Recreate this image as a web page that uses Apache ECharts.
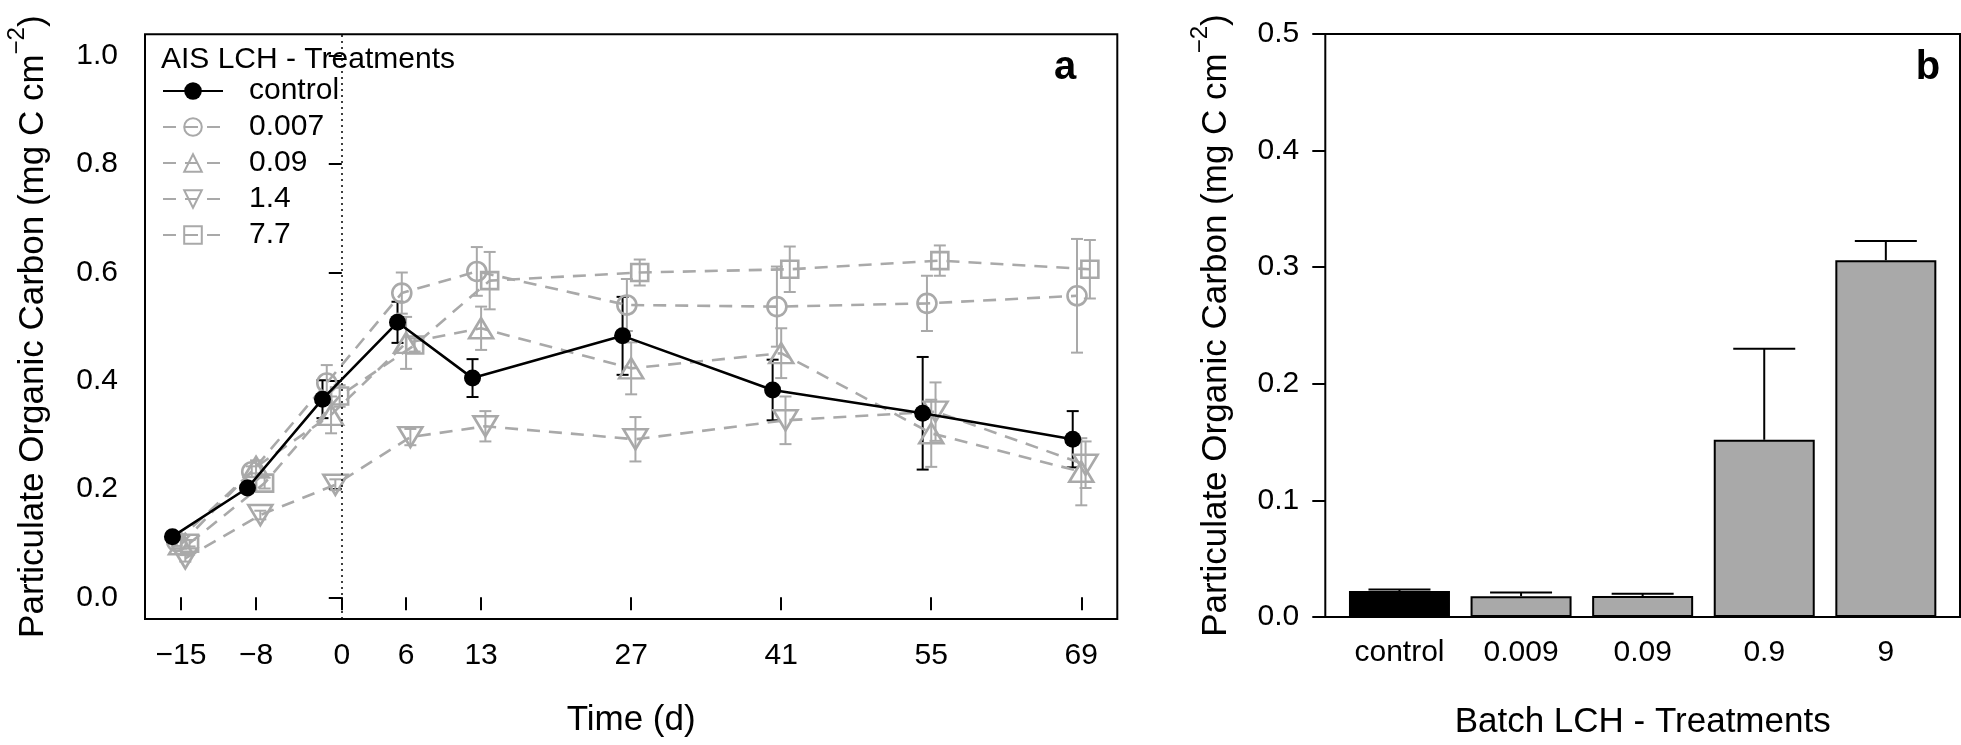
<!DOCTYPE html>
<html><head><meta charset="utf-8">
<script src="https://cdn.jsdelivr.net/npm/echarts@6/dist/echarts.min.js"></script>
<style>html,body{margin:0;padding:0;background:#fff}#c{width:1961px;height:745px}</style>
</head><body><div id="c"></div>
<script>
// ---------- Panel a : AIS LCH treatments over time ----------
const days = [-15, -8, -1, 6, 13, 27, 41, 55, 69];
const timeTicks = [-15, -8, 0, 6, 13, 27, 41, 55, 69];
const yTicksA = [0, 0.2, 0.4, 0.6, 0.8, 1.0];
const treatmentNames = ['control', '0.007', '0.09', '1.4', '7.7'];

const pocControl = [0.112, 0.202, 0.366, 0.508, 0.405, 0.483, 0.383, 0.340, 0.292];
const errControl = [0.006, 0.008, 0.035, 0.038, 0.035, 0.072, 0.056, 0.104, 0.052];
const poc0007 = [0.103, 0.232, 0.396, 0.562, 0.602, 0.540, 0.537, 0.543, 0.557];
const err0007 = [0.008, 0.010, 0.033, 0.038, 0.045, 0.048, 0.074, 0.051, 0.105];
const poc009 = [0.098, 0.241, 0.337, 0.470, 0.497, 0.423, 0.451, 0.303, 0.232];
const err009 = [0.008, 0.012, 0.034, 0.048, 0.040, 0.048, 0.046, 0.062, 0.062];
const poc14 = [0.072, 0.152, 0.208, 0.296, 0.316, 0.292, 0.327, 0.343, 0.245];
const err14 = [0.006, 0.008, 0.010, 0.015, 0.028, 0.041, 0.044, 0.054, 0.043];
const poc77 = [0.100, 0.211, 0.372, 0.466, 0.585, 0.600, 0.606, 0.622, 0.606];
const err77 = [0.006, 0.010, 0.020, 0.012, 0.053, 0.024, 0.042, 0.028, 0.054];

// horizontal dodge (days) so overlapping treatments stay visible
const dodge = [-0.8, -0.4, 0, 0.4, 0.8];

// ---------- Panel b : Batch LCH treatments ----------
const batchNames = ['control', '0.009', '0.09', '0.9', '9'];
const batchPOC = [0.0222, 0.0179, 0.0180, 0.152, 0.306];
const batchErr = [0.0013, 0.0031, 0.0020, 0.078, 0.0165];
const yTicksB = [0, 0.1, 0.2, 0.3, 0.4, 0.5];

const GRAY = '#A9A9A9';
const FONT = 'Liberation Sans, Arial, Helvetica, sans-serif';
const seriesVals = [pocControl, poc0007, poc009, poc14, poc77];
const seriesErrs = [errControl, err0007, err009, err14, err77];
const symbols = ['circle', 'circle', 'triangle', 'triangle', 'rect'];
const symbolSizes = [17, 19, [24, 20], [24, 20], 17];
const symbolRot = [0, 0, 0, 180, 0];

function fmtMinus(v) { return String(v).replace('-', '\u2212'); }

const series = [];
treatmentNames.forEach((name, k) => {
  const col = k === 0 ? '#000' : GRAY;
  // error bars
  series.push({
    type: 'custom', xAxisIndex: 0, yAxisIndex: 0, silent: true, z: 1,
    data: days.map((d, i) => [d + dodge[k], seriesVals[k][i] - seriesErrs[k][i], seriesVals[k][i] + seriesErrs[k][i]]),
    renderItem: (params, api) => {
      const x = api.value(0);
      const p1 = api.coord([x, api.value(1)]);
      const p2 = api.coord([x, api.value(2)]);
      const w = 6;
      const st = { stroke: col, lineWidth: 2 };
      return { type: 'group', children: [
        { type: 'line', shape: { x1: p1[0], y1: p1[1], x2: p2[0], y2: p2[1] }, style: st },
        { type: 'line', shape: { x1: p1[0] - w, y1: p1[1], x2: p1[0] + w, y2: p1[1] }, style: st },
        { type: 'line', shape: { x1: p2[0] - w, y1: p2[1], x2: p2[0] + w, y2: p2[1] }, style: st }
      ]};
    }
  });
  const s = {
    type: 'line', name: name, xAxisIndex: 0, yAxisIndex: 0, z: k === 0 ? 5 : 3,
    data: days.map((d, i) => [d + dodge[k], seriesVals[k][i]]),
    symbol: symbols[k], symbolSize: symbolSizes[k], symbolRotate: symbolRot[k],
    showAllSymbol: true,
    lineStyle: { color: col, width: 2.6, type: k === 0 ? 'solid' : [13, 9] },
    itemStyle: k === 0 ? { color: '#000', borderColor: '#000', borderWidth: 0 }
                       : { color: 'rgba(255,255,255,0)', borderColor: GRAY, borderWidth: 2.6 },
    emphasis: { disabled: true }
  };
  if (k === 0) {
    s.markLine = {
      silent: true, symbol: ['none', 'none'], label: { show: false },
      lineStyle: { color: '#000', type: [2, 4], width: 1.5 },
      data: [{ xAxis: 0 }]
    };
  }
  series.push(s);
});

series.push({
  type: 'bar', xAxisIndex: 1, yAxisIndex: 1, barWidth: 101,
  data: batchPOC.map((v, i) => ({ value: [i + 1, v], itemStyle: { color: i === 0 ? '#000' : GRAY } })),
  itemStyle: { borderColor: '#000', borderWidth: 2 },
  emphasis: { disabled: true }
});
series.push({
  type: 'custom', xAxisIndex: 1, yAxisIndex: 1, silent: true, z: 1,
  data: batchPOC.map((v, i) => [i + 1, v, v + batchErr[i]]),
  renderItem: (params, api) => {
    const x = api.value(0);
    const p1 = api.coord([x, api.value(1)]);
    const p2 = api.coord([x, api.value(2)]);
    const st = { stroke: '#000', lineWidth: 2 };
    return { type: 'group', children: [
      { type: 'line', shape: { x1: p1[0], y1: p1[1], x2: p2[0], y2: p2[1] }, style: st },
      { type: 'line', shape: { x1: p2[0] - 31, y1: p2[1], x2: p2[0] + 31, y2: p2[1] }, style: st }
    ]};
  }
});

const yName = 'Particulate Organic Carbon (mg C cm{sup|\u22122})';
const nameStyle = { fontSize: 35, color: '#000', fontFamily: FONT, lineHeight: 56,
  rich: { sup: { fontSize: 24, lineHeight: 24, verticalAlign: 'top', fontFamily: FONT, color: '#000' } } };
const tickStyle = { show: true, inside: false, length: 13, lineStyle: { color: '#000', width: 2 } };
const labStyle = { fontSize: 30, color: '#000', fontFamily: FONT };

const option = {
  animation: false,
  textStyle: { fontFamily: FONT },
  grid: [
    { left: 145, top: 34.3, width: 972.3, height: 584.7, show: true, borderColor: '#000', borderWidth: 2, backgroundColor: 'transparent', containLabel: false },
    { left: 1325.3, top: 34, width: 634.7, height: 585.3, show: true, borderColor: '#000', borderWidth: 2, backgroundColor: 'transparent', containLabel: false }
  ],
  xAxis: [
    { type: 'value', gridIndex: 0, min: -18.36, max: 72.36,
      axisLine: { show: false }, splitLine: { show: false },
      axisTick: Object.assign({ customValues: timeTicks }, tickStyle),
      axisLabel: Object.assign({ customValues: timeTicks, margin: 22, formatter: v => fmtMinus(v) }, labStyle),
      name: 'Time (d)', nameLocation: 'middle', nameGap: 84, nameTextStyle: { fontSize: 35, color: '#000', fontFamily: FONT } },
    { type: 'value', gridIndex: 1, min: 0.39, max: 5.61,
      axisLine: { show: false }, splitLine: { show: false }, axisTick: { show: false },
      axisLabel: Object.assign({ customValues: [1, 2, 3, 4, 5], margin: 21, formatter: v => batchNames[Math.round(v) - 1] }, labStyle),
      name: 'Batch LCH - Treatments', nameLocation: 'middle', nameGap: 88, nameTextStyle: { fontSize: 35, color: '#000', fontFamily: FONT } }
  ],
  yAxis: [
    { type: 'value', gridIndex: 0, min: -0.04, max: 1.04,
      axisLine: { show: false }, splitLine: { show: false },
      axisTick: Object.assign({ customValues: yTicksA }, tickStyle),
      axisLabel: Object.assign({ customValues: yTicksA, margin: 27, formatter: v => v.toFixed(1) }, labStyle),
      name: yName, nameLocation: 'middle', nameGap: 84, nameTextStyle: nameStyle },
    { type: 'value', gridIndex: 1, min: 0, max: 0.5,
      axisLine: { show: false }, splitLine: { show: false },
      axisTick: Object.assign({ customValues: yTicksB }, tickStyle),
      axisLabel: Object.assign({ customValues: yTicksB, margin: 26, formatter: v => v.toFixed(1) }, labStyle),
      name: yName, nameLocation: 'middle', nameGap: 81, nameTextStyle: nameStyle }
  ],
  legend: {
    orient: 'vertical', left: 157, top: 71, itemWidth: 60, itemHeight: 22, itemGap: 6,
    data: treatmentNames, selectedMode: false,
    textStyle: { fontSize: 30, color: '#000', fontFamily: FONT, padding: [0, 0, 0, 21] }
  },
  graphic: [
    { type: 'text', left: 161, top: 45, style: { text: 'AIS LCH - Treatments', fontSize: 30, fill: '#000', font: '30px ' + FONT } },
    { type: 'text', x: 1065, y: 68, style: { text: 'a', fill: '#000', font: 'bold 40px ' + FONT, textAlign: 'center', textVerticalAlign: 'middle' } },
    { type: 'text', x: 1928, y: 68, style: { text: 'b', fill: '#000', font: 'bold 40px ' + FONT, textAlign: 'center', textVerticalAlign: 'middle' } }
  ],
  series: series
};

const chart = echarts.init(document.getElementById('c'), null, { renderer: 'canvas' });
chart.setOption(option);
</script>
</body></html>
